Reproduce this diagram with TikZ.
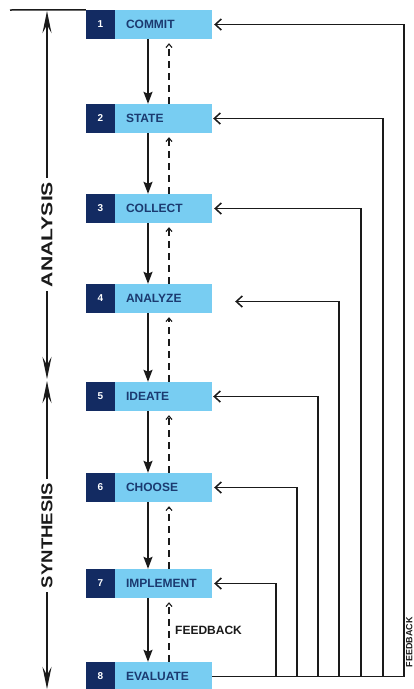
\documentclass[tikz,border=0pt]{standalone}
\usepackage{fontspec}
\setmainfont{Liberation Sans}
\usetikzlibrary{arrows.meta,calc}
\definecolor{lightbox}{HTML}{78CDF2}
\definecolor{navy}{HTML}{132B62}
\definecolor{labelblue}{HTML}{1B3A70}
\definecolor{ink}{HTML}{1A1A1A}
\begin{document}
\begin{tikzpicture}[x=1pt,y=-1pt,
  box/.style={fill=lightbox, minimum width=126pt, minimum height=29pt, inner sep=0pt},
  num/.style={fill=navy, minimum width=29pt, minimum height=29pt, inner sep=0pt, text=white, anchor=west, font=\bfseries\fontsize{10}{11}\selectfont},
  lbl/.style={text=labelblue, anchor=west, inner sep=0pt, font=\bfseries\fontsize{12}{13}\selectfont},
  flow/.style={draw=ink, line width=1.7pt, -{Stealth[length=12pt,width=9pt,inset=2pt]}},
  dashup/.style={draw=ink, line width=1.1pt, dash pattern=on 7pt off 5pt, -{Straight Barb[length=3.5pt,width=6pt]}},
  fb/.style={draw=ink, line width=1.5pt},
  fbarrow/.style={fb, -{Straight Barb[length=6pt,width=11pt]}},
  side/.style={draw=ink, line width=1.8pt, -{Stealth[length=22pt,width=9pt,inset=8pt]}},
  sidelbl/.style={rotate=90, inner sep=4pt, text=ink, font=\bfseries},
  fbtext/.style={text=ink, inner sep=0pt, font=\bfseries\fontsize{12}{13}\selectfont}
]
\useasboundingbox (0,0) rectangle (414,689);

% boxes
\foreach \i/\y/\t in {1/24.5/COMMIT,2/118.5/STATE,3/208.5/COLLECT,4/298.5/ANALYZE,5/396.5/IDEATE,6/487.5/CHOOSE,7/583.5/IMPLEMENT,8/676.5/EVALUATE}{
  \node[box] (b\i) at (149,\y) {};
  \node[num] (n\i) at (b\i.west) {\i};
  \node[lbl] (l\i) at ($(b\i.west)+(40,0)$) {\t};
}

% forward and dashed feedback arrows between steps
\foreach \i/\j in {1/2,2/3,3/4,4/5,5/6,6/7,7/8}{
  \draw[flow] ([xshift=-1pt]b\i.south) -- ([xshift=-1pt]b\j.north);
  \draw[dashup] ([xshift=20pt]b\j.north) -- ([xshift=20pt,yshift=-4pt]b\i.south);
}

% feedback loop lines on the right
\coordinate (f1) at (404,676.5);
\coordinate (f2) at (383,676.5);
\coordinate (f3) at (361,676.5);
\coordinate (f4) at (339,676.5);
\coordinate (f5) at (318,676.5);
\coordinate (f6) at (297,676.5);
\coordinate (f7) at (276,676.5);
\draw[fb] (b8.east) -- (f1);
\draw[fbarrow] (f1) |- ([xshift=2pt]b1.east);
\draw[fbarrow] (f2) |- ([xshift=1pt]b2.east);
\draw[fbarrow] (f3) |- ([xshift=2pt]b3.east);
\draw[fbarrow] (f4) |- ([xshift=23pt,yshift=-3pt]b4.east);
\draw[fbarrow] (f5) |- ([xshift=1pt]b5.east);
\draw[fbarrow] (f6) |- ([xshift=2pt]b6.east);
\draw[fbarrow] (f7) |- ([xshift=2pt]b7.east);

\node[fbtext, anchor=west] (fbl) at (175,630) {FEEDBACK};
\node[fbtext, rotate=90, font=\bfseries\fontsize{9}{10}\selectfont] (fbr) at (409.3,642) {FEEDBACK};

% left side: analysis / synthesis
\coordinate (tl) at (10,10);
\draw[fb] (tl) -- (b1.north west);
\coordinate (ltop) at (47,11);
\coordinate (lmida) at (47,379);
\coordinate (lmidb) at (47,381);
\coordinate (lbot) at (47,689);
\node[sidelbl] (ana) at (47,234.5) {\resizebox{105pt}{11pt}{ANALYSIS}};
\node[sidelbl] (syn) at (47,535.5) {\resizebox{105pt}{11pt}{SYNTHESIS}};
\draw[side] (ana.east) -- (ltop);
\draw[side] (ana.west) -- (lmida);
\draw[side] (syn.east) -- (lmidb);
\draw[side] (syn.west) -- (lbot);
\end{tikzpicture}
\end{document}
